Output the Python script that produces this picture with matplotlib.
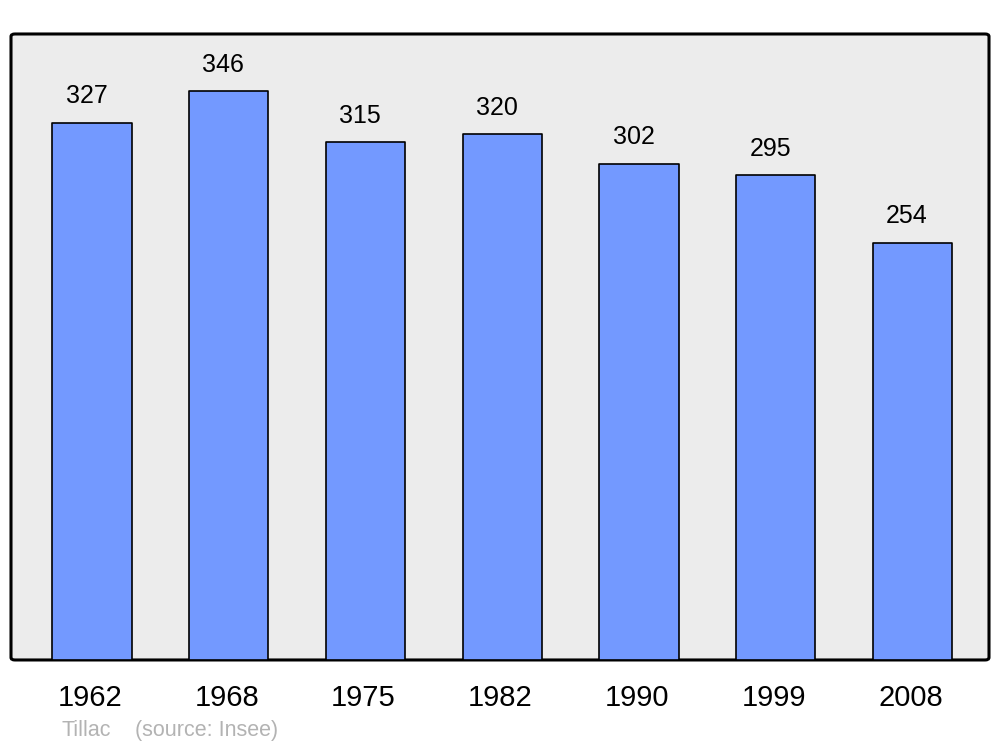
import matplotlib.pyplot as plt
from matplotlib.patches import FancyBboxPatch
import numpy as np

plt.rcParams['font.family'] = ['Liberation Sans', 'DejaVu Sans']

# population data
years = ['1962', '1968', '1975', '1982', '1990', '1999', '2008']
population = [327, 346, 315, 320, 302, 295, 254]

fig = plt.figure(figsize=(10, 7.47), dpi=100)
ax = fig.add_axes([0.011, 0.1165, 0.978, 0.838])
ax.set_facecolor('none')

# rounded frame behind everything
frame = FancyBboxPatch((0, 0), 1, 1, boxstyle='round,pad=0,rounding_size=0.004',
                       transform=ax.transAxes, facecolor='#ececec', edgecolor='black',
                       linewidth=2.2, zorder=0, clip_on=False)
ax.add_patch(frame)

x = np.arange(len(years))
bars = ax.bar(x, population, width=0.58, color='#7399ff', edgecolor='black',
              linewidth=1.2, zorder=2)
for b in bars:
    b.set_joinstyle('round')

for xi, v in zip(x, population):
    ax.annotate(str(v), (xi - 0.04, v), xytext=(0, 19), textcoords='offset points',
                ha='center', va='center', fontsize=18)

ax.set_xlim(-0.593, len(years) - 1 + 0.56)
ax.set_ylim(0, 381)
ax.set_yticks([])
ax.set_xticks(x - 0.015)
ax.set_xticklabels(years, fontsize=21)
ax.tick_params(axis='x', length=0, pad=17)
for s in ax.spines.values():
    s.set_visible(False)

fig.text(0.061, 0.0215, 'Tillac', fontsize=15.5, color='#b3b3b3', va='center')
fig.text(0.135, 0.0215, '(source: Insee)', fontsize=15.5, color='#b3b3b3', va='center')

fig.savefig('out.png', dpi=100)
